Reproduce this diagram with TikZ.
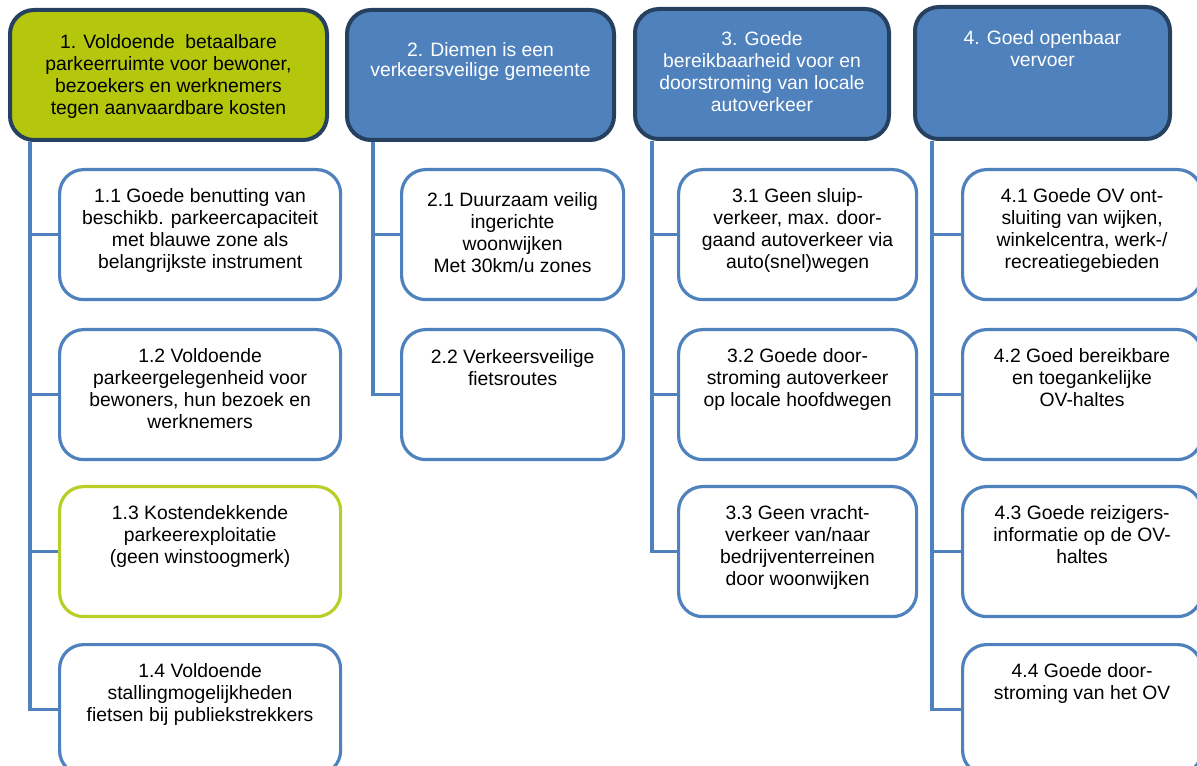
\documentclass[tikz,border=0pt]{standalone}
\usepackage{fontspec}
\setmainfont{Liberation Sans}
\usetikzlibrary{positioning}
\definecolor{goalgreen}{RGB}{180,199,12}
\definecolor{leafgreen}{RGB}{186,206,40}
\definecolor{goalblue}{RGB}{79,129,189}
\definecolor{goaledge}{RGB}{38,64,96}

\begin{document}
\begin{tikzpicture}[x=0.75pt,y=-0.75pt,
  every node/.style={font=\fontsize{14.5}{16.5}\selectfont},
  goal/.style={draw=goaledge,line width=3pt,rounded corners=18pt,fill=goalblue,anchor=north west,minimum height=97.5pt},
  leaf/.style={draw=goalblue,line width=2.4pt,rounded corners=18pt,fill=white,anchor=north west,minimum height=97.5pt},
  txt/.style={inner sep=0pt,align=center},
  link/.style={draw=goalblue,line width=2.6pt}]
  \useasboundingbox (0,0) rectangle (1197,766);

  % hoofddoelen
  \node[goal,fill=goalgreen,minimum width=237.75pt] (g1) at (8,8) {};
  \node[goal,minimum width=200.25pt] (g2) at (345,8) {};
  \node[goal,minimum width=190.5pt] (g3) at (633,7) {};
  \node[goal,minimum width=191.25pt,minimum height=99pt] (g4) at (913,5) {};
  \node[txt,below=19.5pt of g1.north] (g1t) {1. Voldoende\ \ betaalbare\\parkeerruimte voor bewoner,\\bezoekers en werknemers\\tegen aanvaardbare kosten};
  \node[txt,white,below=26pt of g2.north,font=\fontsize{14.5}{15}\selectfont] (g2t) {2. Diemen is een\\verkeersveilige gemeente};
  \node[txt,white,below=18pt of g3.north] (g3t) {3. Goede\\bereikbaarheid voor en\\doorstroming van locale\\autoverkeer};
  \node[txt,white,below=19pt of g4.north] (g4t) {4. Goed openbaar\\vervoer};

  % subdoelen 1
  \node[leaf,minimum width=210.75pt] (l11) at (58,168) {};
  \node[leaf,minimum width=210.75pt] (l12) at (58,328) {};
  \node[leaf,draw=leafgreen,minimum width=210.75pt] (l13) at (58,485) {};
  \node[leaf,minimum width=210.75pt] (l14) at (58,643) {};
  \node[txt,below=15pt of l11.north] (l11t) {1.1 Goede benutting van\\beschikb. parkeercapaciteit\\met blauwe zone als\\belangrijkste instrument};
  \node[txt,below=15pt of l12.north] (l12t) {1.2 Voldoende\\parkeergelegenheid voor\\bewoners, hun bezoek en\\werknemers};
  \node[txt,below=15pt of l13.north] (l13t) {1.3 Kostendekkende\\parkeerexploitatie\\(geen winstoogmerk)};
  \node[txt,below=15pt of l14.north] (l14t) {1.4 Voldoende\\stallingmogelijkheden\\fietsen bij publiekstrekkers};

  % subdoelen 2
  \node[leaf,minimum width=166.5pt] (l21) at (400,168) {};
  \node[leaf,minimum width=166.5pt] (l22) at (400,328) {};
  \node[txt,below=18pt of l21.north] (l21t) {2.1 Duurzaam veilig\\ingerichte\\woonwijken\\Met 30km/u zones};
  \node[txt,below=16pt of l22.north] (l22t) {2.2 Verkeersveilige\\fietsroutes};

  % subdoelen 3
  \node[leaf,minimum width=178.5pt] (l31) at (677,168) {};
  \node[leaf,minimum width=178.5pt] (l32) at (677,328) {};
  \node[leaf,minimum width=178.5pt] (l33) at (677,485) {};
  \node[txt,below=15pt of l31.north] (l31t) {3.1 Geen sluip-\\verkeer, max. door-\\gaand autoverkeer via\\auto(snel)wegen};
  \node[txt,below=15pt of l32.north] (l32t) {3.2 Goede door-\\stroming autoverkeer\\op locale hoofdwegen};
  \node[txt,below=15pt of l33.north] (l33t) {3.3 Geen vracht-\\verkeer van/naar\\bedrijventerreinen\\door woonwijken};

  % subdoelen 4
  \node[leaf,minimum width=179.25pt] (l41) at (961,168) {};
  \node[leaf,minimum width=179.25pt] (l42) at (961,328) {};
  \node[leaf,minimum width=179.25pt] (l43) at (961,485) {};
  \node[leaf,minimum width=179.25pt] (l44) at (961,643) {};
  \node[txt,below=15pt of l41.north] (l41t) {4.1 Goede OV ont-\\sluiting van wijken,\\winkelcentra, werk-/\\recreatiegebieden};
  \node[txt,below=15pt of l42.north] (l42t) {4.2 Goed bereikbare\\en toegankelijke\\OV-haltes};
  \node[txt,below=15pt of l43.north] (l43t) {4.3 Goede reizigers-\\informatie op de OV-\\haltes};
  \node[txt,below=15pt of l44.north] (l44t) {4.4 Goede door-\\stroming van het OV};

  % stammen
  \coordinate (t1) at ([xshift=16.5pt]g1.south west);
  \coordinate (t2) at ([xshift=21pt]g2.south west);
  \coordinate (t3) at ([xshift=14.25pt]g3.south west);
  \coordinate (t4) at ([xshift=14.25pt]g4.south west);
  \foreach \l in {l11,l12,l13,l14} \draw[link] (t1) |- (\l.west);
  \foreach \l in {l21,l22} \draw[link] (t2) |- (\l.west);
  \foreach \l in {l31,l32,l33} \draw[link] (t3) |- (\l.west);
  \foreach \l in {l41,l42,l43,l44} \draw[link] (t4) |- (\l.west);
\end{tikzpicture}
\end{document}
